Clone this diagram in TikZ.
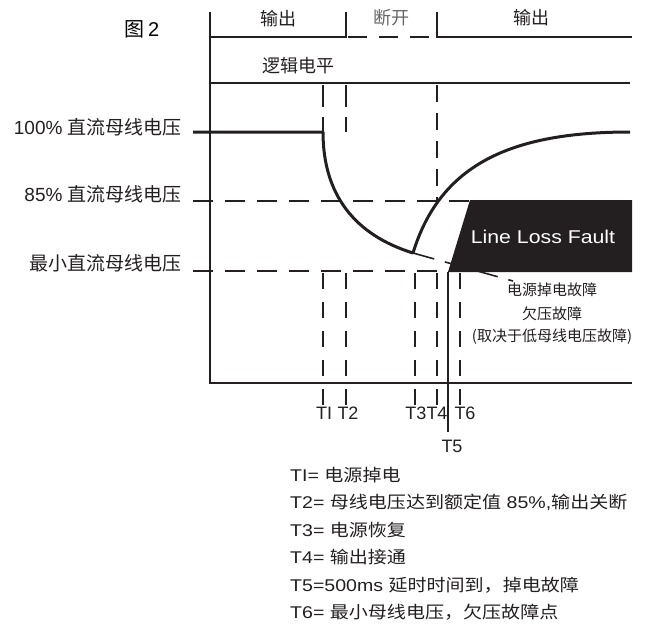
\documentclass[tikz,border=0pt]{standalone}
\usepackage{fontspec}
\setmainfont{Liberation Sans}
\newfontfamily\cjk{Noto Sans CJK SC}
\newfontfamily\widelat[FakeStretch=1.15]{Liberation Sans}
\newfontfamily\widecjk[FakeStretch=1.12]{Noto Sans CJK SC}
\usetikzlibrary{calc}
\definecolor{ink}{RGB}{35,31,32}
\tikzset{
  axisline/.style={line width=2pt,ink},
  band/.style={line width=2.5pt,ink},
  volt/.style={line width=3pt,ink,line join=round},
  guide/.style={line width=2pt,ink,dash pattern=on 20pt off 12pt},
  tickline/.style={line width=2pt,ink,dash pattern=on 16pt off 13pt},
  lvl/.style={anchor=east,inner sep=0pt,ink,font=\fontsize{19}{21}\selectfont},
  bandlab/.style={inner sep=0pt,ink,font=\fontsize{18}{20}\selectfont\cjk},
  tname/.style={inner sep=0pt,ink,font=\fontsize{18}{20}\selectfont},
  note/.style={inner sep=0pt,ink,font=\fontsize{15}{17}\selectfont\cjk},
  legend/.style={anchor=west,inner sep=0pt,ink,font=\fontsize{17}{19}\widelat},
}

\begin{document}
\begin{tikzpicture}[x=1pt,y=-1pt]
  \useasboundingbox (0,0) rectangle (646,627);
  % frame, output band and logic level
  \draw[axisline] (210,12) -- (210,383) -- (632,383);
  \draw[band] (210,37) -- (346,37) -- (346,12);
  \draw[band,dash pattern=on 19pt off 12pt] (348,37) -- (437,37);
  \draw[band] (437,12) -- (437,37) -- (632,37);
  \draw[band] (210,83) -- (630,83);
  \node[bandlab] (out1) at (278,19) {输出};
  \node[bandlab,black!60] (off) at (391,18) {断开};
  \node[bandlab] (out2) at (531,18) {输出};
  \node[bandlab] (logic) at (298,66) {逻辑电平};
  \node[inner sep=0pt,font=\fontsize{20}{22}\selectfont] (fig) at (142,29) {{\cjk 图}\,2};
  % voltage levels
  \draw[guide] (193,201) -- (470,201);
  \draw[guide] (193,271) -- (448,271);
  \node[lvl] (v100) at (182,127) {100\% {\cjk 直流母线电压}};
  \node[lvl] (v85) at (182,194) {85\% {\cjk 直流母线电压}};
  \node[lvl] (vmin) at (182,263) {{\cjk 最小直流母线电压}};
  % time guides
  \draw[guide,dash pattern=on 22pt off 10pt] (323,85) -- (323,132);
  \draw[guide,dash pattern=on 22pt off 10pt] (346,85) -- (346,132);
  \draw[guide,dash pattern=on 17pt off 11pt] (437,85) -- (437,201);
  \foreach \tx in {323,346,415,437,460}
    \draw[tickline] (\tx,273) -- (\tx,405);
  % bus voltage: drop and recovery
  \coordinate (low) at (413,253);
  \draw[volt] (193,132) -- (323,132) .. controls (323,195) and (355,235) .. (low);
  \draw[volt] (low) .. controls (440,165) and (510,132) .. (630,132);
  \draw[line width=1.6pt,ink,dash pattern=on 22pt off 11pt] (low) -- (513,281);
  % fault region
  \fill[ink] (470,200) -- (632,200) -- (632,272) -- (448,272) -- cycle;
  \node[inner sep=0pt,white,font=\fontsize{18.5}{20}\widelat] (llf) at (543,237) {Line Loss Fault};
  \draw[line width=2pt,ink] (448,272) -- (448,432);
  \node[note] (n1) at (552,290) {电源掉电故障};
  \node[note] (n2) at (552,314) {欠压故障};
  \node[note] (n3) at (552,337) {(取决于低母线电压故障)};
  % time labels
  \node[tname] (lt1) at (324,413) {TI};
  \node[tname] (lt2) at (348,413) {T2};
  \node[tname] (lt3) at (416,413) {T3};
  \node[tname] (lt4) at (437,413) {T4};
  \node[tname] (lt6) at (465,413) {T6};
  \node[tname] (lt5) at (452,446) {T5};
  % legend
  \node[legend] (k1) at (290,475) {TI= {\widecjk 电源掉电}};
  \node[legend] (k2) at (290,502.5) {T2= {\widecjk 母线电压达到额定值} 85\%,{\widecjk 输出关断}};
  \node[legend] (k3) at (290,530) {T3= {\widecjk 电源恢复}};
  \node[legend] (k4) at (290,557.5) {T4= {\widecjk 输出接通}};
  \node[legend] (k5) at (290,585) {T5=500ms {\widecjk 延时时间到，掉电故障}};
  \node[legend] (k6) at (290,612.5) {T6= {\widecjk 最小母线电压，欠压故障点}};
\end{tikzpicture}
\end{document}
